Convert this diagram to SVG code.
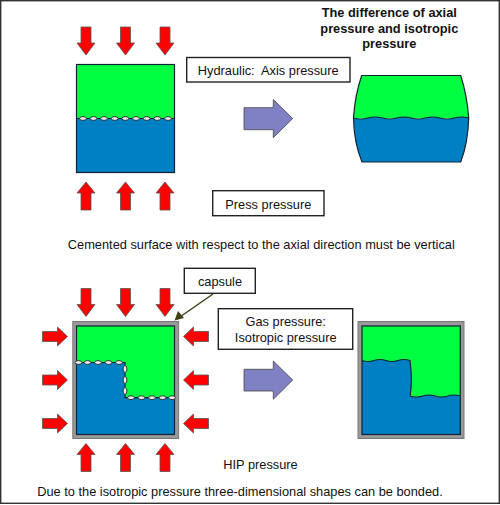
<svg xmlns="http://www.w3.org/2000/svg" width="500" height="505" viewBox="0 0 500 505">
<style>
text{font-family:"Liberation Sans",Arial,sans-serif;font-size:12.800px;fill:#111;text-anchor:middle;white-space:pre}
.b{font-weight:bold}
.box{fill:#fff;stroke:#222;stroke-width:1.400}
.g{fill:#00ff40}.bl{fill:#0080c4}
.edge{fill:none;stroke:#123;stroke-width:1.200}
.red{fill:#ff0000;stroke:#555;stroke-width:.8}
.pur{fill:#8080c4;stroke:#444;stroke-width:.8}
.cap{fill:#999;stroke:#777;stroke-width:1}
.bead{fill:#eee;stroke:#222;stroke-width:.9}
</style>
<defs>
<path id="dn" class="red" d="M-5 -14H5V2H9L0 14L-9 2H-5Z"/>
<path id="up" class="red" d="M-5 14H5V-3H9L0 -14L-9 -3H-5Z"/>
<path id="rt" class="red" d="M-12.500 -5H2.500V-9.500L12.500 0L2.500 9.500V5H-12.500Z"/>
<path id="lf" class="red" d="M12.500 -5H-2.500V-9.500L-12.500 0L-2.500 9.500V5H12.500Z"/>
<ellipse id="bh" class="bead" rx="3.400" ry="1.900"/>
<ellipse id="bv" class="bead" rx="1.900" ry="3.400"/>
</defs>
<rect x="0.700" y="0.700" width="498.600" height="502.600" fill="#fff" stroke="#333" stroke-width="1.400"/>

<g id="connectors">
<path d="M213 294L177 319" fill="none" stroke="#404018" stroke-width="1.500"/>
<path d="M174.500 320.500L184 318L178 311Z" fill="#404018"/>
</g>

<g id="arrows-top">
<use href="#dn" x="86" y="41"/><use href="#dn" x="125.500" y="41"/><use href="#dn" x="165" y="41"/>
<use href="#up" x="86" y="196"/><use href="#up" x="125.500" y="196"/><use href="#up" x="165" y="196"/>
</g>

<g id="block-top">
<rect class="g" x="76.500" y="64.500" width="98" height="54"/>
<rect class="bl" x="76.500" y="118.500" width="98" height="54"/>
<rect class="edge" x="76.500" y="64.500" width="98" height="108"/>
<path d="M76.500 118.500H174.500" stroke="#123" stroke-width="1.200"/>
<use href="#bh" x="83" y="118.500"/><use href="#bh" x="93.500" y="118.500"/><use href="#bh" x="104" y="118.500"/><use href="#bh" x="114.700" y="118.500"/><use href="#bh" x="125.300" y="118.500"/><use href="#bh" x="136" y="118.500"/><use href="#bh" x="146.700" y="118.500"/><use href="#bh" x="157.300" y="118.500"/><use href="#bh" x="168" y="118.500"/>
</g>

<g id="box-hydraulic">
<rect class="box" x="186.700" y="57.500" width="163.300" height="24.500"/>
<text x="268.200" y="75">Hydraulic:  Axis pressure</text>
</g>
<g id="box-press">
<rect class="box" x="212.700" y="190.700" width="111.300" height="25"/>
<text x="268.300" y="208.500">Press pressure</text>
</g>
<g id="arrow-top">
<path class="pur" d="M244 107.700H273.300V99.500L292.700 118.500L273.300 137.700V129.700H244Z"/>
</g>
<g id="title">
<text class="b" x="389.300" y="17.300">The difference of axial</text>
<text class="b" x="389.300" y="32.700">pressure and isotropic</text>
<text class="b" x="389.300" y="48.200">pressure</text>
</g>
<g id="block-deformed">
<path class="g" d="M361.700 75.500H460.700Q467 95 468.700 118.300H353.500Q355 95 361.700 75.500Z"/>
<path class="bl" d="M353.500 118q7.200 2 14.400 0t14.400 0t14.400 0t14.400 0t14.400 0t14.400 0t14.400 0t14.400 0Q468 143 460.700 162H362Q354 143 353.500 118Z"/>
<path class="edge" d="M361.700 75.500H460.700Q467 95 468.700 118Q468 143 460.700 162H362Q354 143 353.500 118Q355 95 361.700 75.500Z"/>
<path class="edge" d="M353.500 118q7.200 2 14.400 0t14.400 0t14.400 0t14.400 0t14.400 0t14.400 0t14.400 0t14.400 0"/>
</g>
<text id="note-top" x="261.300" y="248.500">Cemented surface with respect to the axial direction must be vertical</text>

<g id="box-capsule">
<rect class="box" x="184.300" y="268.300" width="71" height="25"/>
<text x="220" y="285.500">capsule</text>
</g>
<g id="box-gas">
<rect class="box" x="218.300" y="308.700" width="134.400" height="40.600"/>
<text x="285.700" y="326">Gas pressure:</text>
<text x="285.700" y="341.500">Isotropic pressure</text>
</g>
<g id="arrows-bottom">
<use href="#dn" x="86" y="302.500"/><use href="#dn" x="125.500" y="302.500"/><use href="#dn" x="165" y="302.500"/>
<use href="#up" x="86" y="457.500"/><use href="#up" x="125.500" y="457.500"/><use href="#up" x="165" y="457.500"/>
<use href="#rt" x="55" y="336.500"/><use href="#rt" x="55" y="380"/><use href="#rt" x="55" y="423.500"/>
<use href="#lf" x="196" y="336.500"/><use href="#lf" x="196" y="380"/><use href="#lf" x="196" y="423.500"/>
</g>
<g id="block-capsule">
<rect class="cap" x="72.800" y="321.500" width="105.800" height="117"/>
<rect class="g" x="76.500" y="326" width="98" height="108.500"/>
<path class="bl" d="M76.500 362.500H125V397.700H174.500V434.500H76.500Z"/>
<rect class="edge" x="76.500" y="326" width="98" height="108.500"/>
<path class="edge" d="M76.500 362.500H125V397.700H174.500"/>
<use href="#bh" x="78.500" y="362.500"/><use href="#bh" x="87.500" y="362.500"/><use href="#bh" x="98" y="362.500"/><use href="#bh" x="108.500" y="362.500"/><use href="#bh" x="119" y="362.500"/>
<use href="#bv" x="125" y="369"/><use href="#bv" x="125" y="380"/><use href="#bv" x="125" y="391"/>
<use href="#bh" x="131" y="397.700"/><use href="#bh" x="141.500" y="397.700"/><use href="#bh" x="152" y="397.700"/><use href="#bh" x="162.500" y="397.700"/><use href="#bh" x="172" y="397.700"/>
</g>
<g id="arrow-bottom">
<path class="pur" d="M244 369.300H273.300V361L292.700 380L273.300 399.300V391H244Z"/>
</g>
<g id="block-capsule-bonded">
<rect class="cap" x="358" y="321.500" width="106" height="117"/>
<rect class="g" x="362" y="326" width="98.300" height="108.500"/>
<path class="bl" d="M362 360.500q6 2 12 0t12 0t12 0t12 0C411 372 413 380 410 396q6.300 2 12.600 0t12.600 0t12.600 0t12.500 0V434.500H362Z"/>
<rect class="edge" x="362" y="326" width="98.300" height="108.500"/>
<path class="edge" d="M362 360.500q6 2 12 0t12 0t12 0t12 0C411 372 413 380 410 396q6.300 2 12.600 0t12.600 0t12.600 0t12.500 0"/>
</g>
<text id="label-hip" x="260.500" y="468.500">HIP pressure</text>
<text id="note-bottom" x="240" y="496">Due to the isotropic pressure three-dimensional shapes can be bonded.</text>
</svg>
